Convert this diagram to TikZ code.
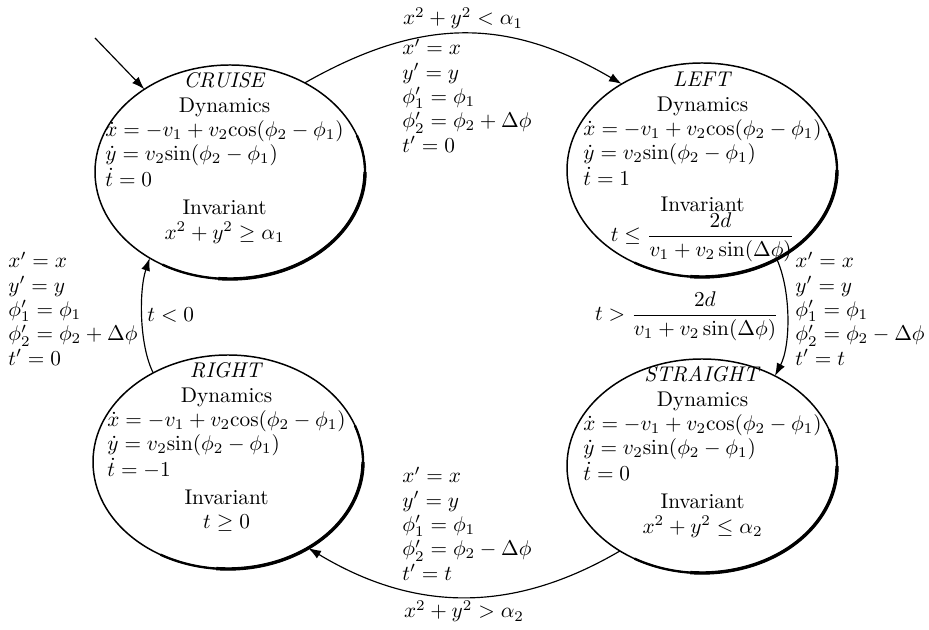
\documentclass[tikz,border=0pt]{standalone}
\usepackage{amsmath}
\usetikzlibrary{shapes.geometric,arrows.meta}
\newcommand\statebody[5]{\renewcommand\arraystretch{0.95}\begin{tabular}[t]{@{}l@{}}
\multicolumn{1}{@{}c@{}}{\textit{#1}}\\
\multicolumn{1}{@{}c@{}}{Dynamics}\\
$\dot x=-v_1+v_2\mathrm{cos}(\phi_2-\phi_1)$\\
$\dot y=v_2\mathrm{sin}(\phi_2-\phi_1)$\\
$\dot t=#2$\\[#4]
\multicolumn{1}{@{}c@{}}{Invariant}\\[#5]
\multicolumn{1}{@{}c@{}}{#3}
\end{tabular}}
\newcommand\resetblock[2]{\renewcommand\arraystretch{0.95}\begin{tabular}[t]{@{}l@{}}
$x'=x$\\
$y'=y$\\
$\phi_1'=\phi_1$\\
$\phi_2'=\phi_2#1\Delta\phi$\\
$t'=#2$
\end{tabular}}
\begin{document}
\begin{tikzpicture}[x=0.47pt,y=-0.47pt,
  state/.style={ellipse,draw,line width=0.7pt,minimum width={270*0.47pt},minimum height={214*0.47pt},inner sep=0pt,outer sep=0pt},
  body/.style={inner sep=0pt,anchor=base west},
  lab/.style={inner sep=0pt,anchor=base west},
  arr/.style={-{Latex[length=6pt,width=4.2pt]},line width=0.55pt},
  heavy/.style={line width=1.1pt},
  heavier/.style={line width=1.6pt}]
\useasboundingbox (0,0) rectangle (929,630);

% states
\node[state] (cruise) at (230,172) {};
\node[state] (left) at (702,170) {};
\node[state] (straight) at (702,466) {};
\node[state] (right) at (228,462) {};

\foreach \c in {cruise,left,straight,right}{
  \draw[heavy] (\c.center) ++(-20:135 and 107) arc[start angle=-20,end angle=120,x radius=135,y radius=107];
  \draw[heavier] (\c.center) ++(0:135 and 107) arc[start angle=0,end angle=95,x radius=135,y radius=107];
}

\node[body] (tcruise) at (105,88) {\statebody{CRUISE}{0}{$x^2+y^2\ge\alpha_1$}{2pt}{0pt}};
\node[body] (tleft) at (583,87) {\statebody{LEFT}{1}{$t\le\dfrac{2d}{v_1+v_2\sin(\Delta\phi)}$}{1pt}{-3pt}};
\node[body] (tstraight) at (583,382) {\statebody{STRAIGHT}{0}{$x^2+y^2\le\alpha_2$}{2pt}{0pt}};
\node[body] (tright) at (107,378) {\statebody{RIGHT}{-1}{$t\ge0$}{2pt}{0pt}};

% connectors
\coordinate (init) at (95,38);
\draw[arr] (init) -- (cruise.136);
\draw[arr] (cruise.50) .. controls (421,17) and (507,17) .. (left.133);
\draw[arr] (left.-50) .. controls (791,290) and (791,345) .. (straight.51);
\draw[arr] (straight.-134) .. controls (514,613) and (416,613) .. (right.-47);
\draw[arr] (right.130) .. controls (139,345) and (139,290) .. (cruise.-133);

% labels
\node[inner sep=0pt,anchor=base] (g1) at (463,25) {$x^2+y^2<\alpha_1$};
\node[lab] (r1) at (402,55) {\resetblock{+}{0}};
\node[lab] (r2) at (795,268) {\resetblock{-}{t}};
\node[inner sep=0pt,anchor=east] (g2) at (779,316) {$t>\dfrac{2d}{v_1+v_2\sin(\Delta\phi)}$};
\node[lab] (r3) at (402,483) {\resetblock{-}{t}};
\node[inner sep=0pt,anchor=base] (g3) at (464,618) {$x^2+y^2>\alpha_2$};
\node[lab] (r4) at (8,268) {\resetblock{+}{0}};
\node[lab] (g4) at (147,322) {$t<0$};
\end{tikzpicture}
\end{document}
